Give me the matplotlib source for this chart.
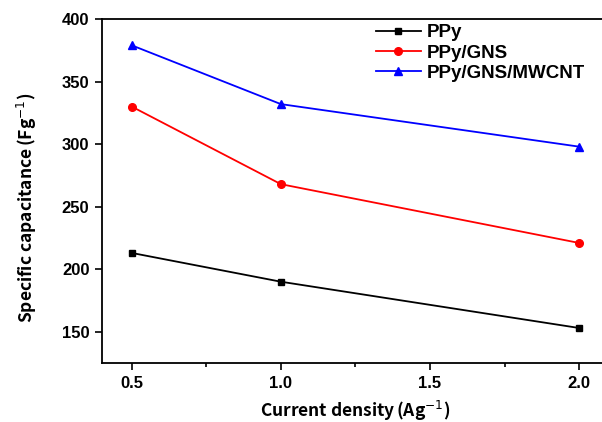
import matplotlib
matplotlib.use("Agg")
import matplotlib.pyplot as plt
from matplotlib.ticker import MultipleLocator

# ── data ─────────────────────────────────────────────────────────────────────
current_density = [0.5, 1.0, 2.0]
ppy             = [213, 190, 153]
ppy_gns         = [330, 268, 221]
ppy_gns_mwcnt   = [379, 332, 298]

labels  = ["PPy", "PPy/GNS", "PPy/GNS/MWCNT"]
colors  = ["black", "red", "blue"]
markers = ["s", "o", "^"]
msizes  = [5.0, 5.5, 6.0]

plt.rcParams["font.family"] = ["Liberation Sans", "DejaVu Sans"]

fig = plt.figure(figsize=(6.02, 4.22), dpi=100)
# the original is cropped on the right, so the axes run past the figure edge
ax = fig.add_axes([0.1694, 0.1398, 0.842, 0.815])

for ys, lab, c, m, ms in zip([ppy, ppy_gns, ppy_gns_mwcnt], labels, colors, markers, msizes):
    ax.plot(current_density, ys, color=c, marker=m, markersize=ms,
            linewidth=1.3, label=lab)

ax.set_xlim(0.4, 2.1)
ax.set_ylim(125, 400)
ax.xaxis.set_major_locator(MultipleLocator(0.5))
ax.xaxis.set_minor_locator(MultipleLocator(0.25))
ax.yaxis.set_major_locator(MultipleLocator(50))
ax.tick_params(which="both", direction="out", width=1.2)
ax.tick_params(which="major", length=5, labelsize=12, pad=4)
ax.tick_params(which="minor", length=3)
for lbl in ax.get_xticklabels() + ax.get_yticklabels():
    lbl.set_fontweight("bold")
for sp in ax.spines.values():
    sp.set_linewidth(1.3)

lab_font = dict(family=["Noto Sans CJK KR", "DejaVu Sans"], fontweight="bold", fontsize=12.5)
ax.set_xlabel("Current density$\\,$(Ag$^{-1}$)", labelpad=6, **lab_font)
ax.set_ylabel("Specific capacitance$\\,$(Fg$^{-1}$)", **lab_font)
ax.yaxis.set_label_coords(-0.125, 0.45)

leg = ax.legend(loc="upper left", bbox_to_anchor=(0.54, 0.985), frameon=False,
                borderaxespad=0, borderpad=0,
                handlelength=2.4, handletextpad=0.3, labelspacing=0.17,
                prop=dict(weight="bold", size=13.5))

plt.savefig("out.png", dpi=100)
